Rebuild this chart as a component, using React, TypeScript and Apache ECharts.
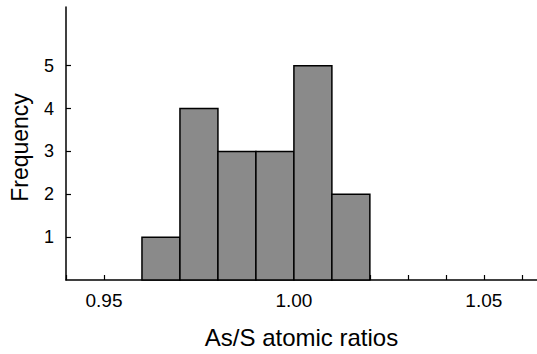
import React, { useEffect, useRef } from "react";
import * as echarts from "echarts";

const binStarts = [0.96, 0.97, 0.98, 0.99, 1.0, 1.01];
const binEnds = [0.97, 0.98, 0.99, 1.0, 1.01, 1.02];
const counts = [1, 4, 3, 3, 5, 2];
const xTickValues = [0.94, 0.95, 0.96, 0.97, 0.98, 0.99, 1.0, 1.01, 1.02, 1.03, 1.04, 1.05, 1.06];
const xLabelValues = [0.95, 1.0, 1.05];
const yTickValues = [1, 2, 3, 4, 5];

const FONT = "Liberation Sans, Arial, sans-serif";

export default function App() {
  const ref = useRef<HTMLDivElement>(null);
  useEffect(() => {
    if (!ref.current) return;
    const chart = echarts.init(ref.current, null, { renderer: "svg" });
    const data = binStarts.map((s, i) => [s, binEnds[i], counts[i]]);
    chart.setOption({
      animation: false,
      grid: { left: 65, right: 0, top: 7, bottom: 73 },
      xAxis: {
        type: "value",
        min: 0.94,
        max: 1.064,
        interval: 0.01,
        splitLine: { show: false },
        axisLine: { lineStyle: { color: "#000", width: 1.5 } },
        axisTick: { inside: true, length: 5, lineStyle: { color: "#000", width: 1.2 }, customValues: xTickValues },
        axisLabel: {
          customValues: xLabelValues,
          formatter: (v: number) => v.toFixed(2),
          color: "#000",
          fontSize: 19,
          fontFamily: FONT,
          margin: 11,
        },
        name: "As/S atomic ratios",
        nameLocation: "middle",
        nameGap: 45,
        nameTextStyle: { color: "#000", fontSize: 24, fontFamily: FONT },
      },
      yAxis: {
        type: "value",
        min: 0,
        max: 6.37,
        interval: 1,
        splitLine: { show: false },
        axisLine: { show: true, lineStyle: { color: "#000", width: 1.5 } },
        axisTick: { show: true, inside: true, length: 5, lineStyle: { color: "#000", width: 1.2 }, customValues: yTickValues },
        axisLabel: {
          customValues: yTickValues,
          color: "#000",
          fontSize: 18,
          fontFamily: FONT,
          margin: 12,
        },
        name: "Frequency",
        nameLocation: "middle",
        nameRotate: 90,
        nameGap: 35,
        nameTextStyle: { color: "#000", fontSize: 23, fontFamily: FONT, padding: [0, 8, 0, 0] },
      },
      series: [
        {
          type: "custom",
          data,
          renderItem: (params: any, api: any) => {
            const p0 = api.coord([api.value(0), api.value(2)]);
            const p1 = api.coord([api.value(1), 0]);
            return {
              type: "rect",
              shape: { x: p0[0], y: p0[1], width: p1[0] - p0[0], height: p1[1] - p0[1] },
              style: { fill: "#8a8a8a", stroke: "#000", lineWidth: 1.5 },
            };
          },
        },
      ],
    });
    return () => chart.dispose();
  }, []);
  return <div ref={ref} style={{ width: 537, height: 354, position: "absolute", left: 0, top: 0 }} />;
}
